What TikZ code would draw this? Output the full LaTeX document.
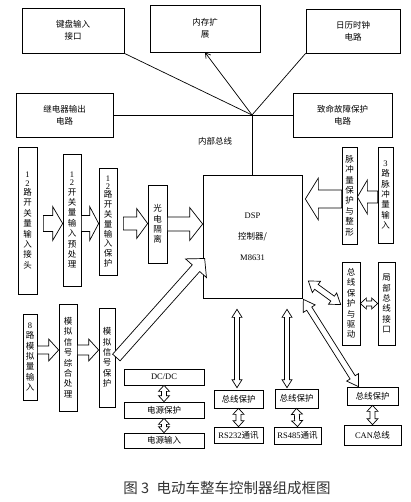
\documentclass[tikz,border=0pt]{standalone}
\usepackage{fontspec}
\setmainfont{Liberation Serif}
\newfontfamily\cjk{Noto Sans CJK SC}
\newfontfamily\lat{Liberation Serif}
\usetikzlibrary{calc,arrows.meta}
\tikzset{
  box/.style={draw, line width=0.7pt, inner sep=0pt, align=center, font=\cjk\fontsize{8.5}{12}\selectfont},
  vbox/.style={box, font=\cjk\fontsize{8.5}{10.4}\selectfont},
  fatline/.style={draw, line width=0.7pt, fill=white, line join=miter},
  bus/.style={line width=0.7pt},
  lbl/.style={font=\cjk\fontsize{8.5}{10}\selectfont, inner sep=0pt},
}
\newcommand\fatarrow[5]{%
  \coordinate (faS) at (#4);
  \coordinate (faE) at (#5);
  \coordinate (faC) at ($(faE)!#3!(faS)$);
  \draw[fatline] ($(faS)!#1!-90:(faE)$) -- ($(faC)!#1!-90:(faE)$) -- ($(faC)!#2!-90:(faE)$) -- (faE) -- ($(faC)!#2!90:(faE)$) -- ($(faC)!#1!90:(faE)$) -- ($(faS)!#1!90:(faE)$) -- cycle;}
\newcommand\dfatarrow[5]{%
  \coordinate (faS) at (#4);
  \coordinate (faE) at (#5);
  \coordinate (faC) at ($(faE)!#3!(faS)$);
  \coordinate (faD) at ($(faS)!#3!(faE)$);
  \draw[fatline] (faS) -- ($(faD)!#2!-90:(faE)$) -- ($(faD)!#1!-90:(faE)$) -- ($(faC)!#1!-90:(faE)$) -- ($(faC)!#2!-90:(faE)$) -- (faE) -- ($(faC)!#2!90:(faE)$) -- ($(faC)!#1!90:(faE)$) -- ($(faD)!#1!90:(faE)$) -- ($(faD)!#2!90:(faE)$) -- cycle;}
\begin{document}
\begin{tikzpicture}[x=1pt,y=-1pt]
\useasboundingbox[fill=white] (0,0) rectangle (410,502);

% top boxes
\node[box, minimum width=102pt, minimum height=45pt] (kb) at (73,30.5) {键盘输入\\接口};
\node[box, minimum width=110pt, minimum height=47pt] (mem) at (205,28.5) {内存扩\\展};
\node[box, minimum width=94pt, minimum height=44pt] (cal) at (353,31) {日历时钟\\电路};
\node[box, minimum width=97pt, minimum height=44pt] (relay) at (64.5,115) {继电器输出\\电路};
\node[box, minimum width=99pt, minimum height=44pt] (fault) at (342.5,115) {致命故障保护\\电路};

% DSP
\node[box, minimum width=99pt, minimum height=123pt, font=\cjk\fontsize{8.5}{11}\selectfont] (dsp) at (252.5,236.5) {{\lat DSP}\\[10pt]控制器/\\[10pt]{\lat M8631}};

% internal bus
\coordinate (J) at (252,115);
\draw[bus] (kb.south east) -- (J);
\draw[bus, -{Straight Barb[length=5pt,width=6pt]}] (J) -- (mem.south);
\draw[bus] (J) -- (cal.south west);
\draw[bus] (relay.east) -- (fault.west);
\draw[bus] (J) -- (J |- dsp.north);
\node[lbl] (buslbl) at (215,141) {内部总线};

% switch input chain
\node[vbox, minimum width=19pt, minimum height=147pt] (s1) at (27.5,220.5) {{\lat 1}\\[-2pt]{\lat 2}\\[-1pt]路\\开\\关\\量\\输\\入\\接\\头};
\node[vbox, minimum width=18pt, minimum height=132pt] (s2) at (72,220) {{\lat 1}\\[-2pt]{\lat 2}\\[-1pt]开\\关\\量\\输\\入\\预\\处\\理};
\node[vbox, minimum width=18pt, minimum height=107pt, font=\cjk\fontsize{8.5}{9.8}\selectfont] (s3) at (108,221.5) {{\lat 1}\\[-2pt]{\lat 2}\\[-1pt]路\\开\\关\\量\\输\\入\\保\\护};
\node[vbox, minimum width=19pt, minimum height=78pt] (s4) at (157.5,224) {光\\电\\隔\\离};

\coordinate (a1s) at ($(s1.east)+(6,3)$);
\coordinate (a1e) at (s2.west |- a1s);
\fatarrow{8pt}{17pt}{10pt}{a1s}{a1e}
\coordinate (a2s) at (s2.east |- a1s);
\coordinate (a2e) at (s3.west |- a1s);
\fatarrow{8pt}{17pt}{9pt}{a2s}{a2e}
\coordinate (a3s) at ($(s3.east |- a1s)+(6,0)$);
\coordinate (a3e) at (s4.west |- a3s);
\fatarrow{6.5pt}{15pt}{11pt}{a3s}{a3e}
\coordinate (a4e) at (dsp.west |- s4.east);
\fatarrow{7pt}{16.5pt}{13pt}{s4.east}{a4e}

% pulse input
\node[vbox, minimum width=15pt, minimum height=97pt] (p1) at (349.5,195.5) {脉\\冲\\量\\保\\护\\与\\整\\形};
\node[vbox, minimum width=15pt, minimum height=96pt] (p2) at (385.5,195) {{\lat 3}\\路\\脉\\冲\\量\\输\\入};
\coordinate (a5s) at ($(p2.west)+(0,2)$);
\coordinate (a5e) at (p1.east |- a5s);
\fatarrow{6pt}{17pt}{10pt}{a5s}{a5e}
\coordinate (a6s) at ($(p1.west)+(0,3.5)$);
\coordinate (a6e) at ($(dsp.east |- a6s)+(3,0)$);
\fatarrow{9pt}{21pt}{13pt}{a6s}{a6e}

% local bus
\node[vbox, minimum width=18pt, minimum height=83pt] (b1) at (351,303.5) {总\\线\\保\\护\\与\\驱\\动};
\node[vbox, minimum width=17pt, minimum height=83pt] (b2) at (386.5,303.5) {局\\部\\总\\线\\接\\口};
\dfatarrow{2.5pt}{5.5pt}{6pt}{b1.east}{b2.west}
\coordinate (d1s) at ($(dsp.east)+(6,44.5)$);
\coordinate (d1e) at ($(b1.west)+(-1,1)$);
\dfatarrow{3pt}{7pt}{10pt}{d1s}{d1e}

% analog input chain
\node[vbox, minimum width=14pt, minimum height=86pt] (an1) at (30,357) {{\lat 8}\\路\\模\\拟\\量\\输\\入};
\node[vbox, minimum width=18pt, minimum height=107pt] (an2) at (68,357.5) {模\\拟\\信\\号\\综\\合\\处\\理};
\node[vbox, minimum width=16pt, minimum height=99pt] (an3) at (107,357.5) {模\\拟\\信\\号\\保\\护};
\coordinate (a7s) at ($(an1.east)+(0,-7)$);
\coordinate (a7e) at (an2.west |- a7s);
\fatarrow{4pt}{11pt}{10pt}{a7s}{a7e}
\coordinate (a8s) at (an2.east |- a7s);
\coordinate (a8e) at (an3.west |- a7s);
\fatarrow{5pt}{11pt}{10pt}{a8s}{a8e}
\coordinate (a9s) at ($(an3.east)+(1,0)$);
\coordinate (a9e) at ($(dsp.west)+(2,22)$);
\fatarrow{5pt}{14pt}{13pt}{a9s}{a9e}

% power
\node[box, minimum width=80pt, minimum height=16pt] (dc) at (164,377) {\lat DC/DC};
\node[box, minimum width=80pt, minimum height=16pt] (pp) at (164,410) {电源保护};
\node[box, minimum width=80pt, minimum height=15pt] (pin) at (164,440.5) {电源输入};
\dfatarrow{2.5pt}{5.5pt}{6pt}{dc.south}{pp.north}
\dfatarrow{2.5pt}{5.5pt}{6pt}{pp.south}{pin.north}

% communication
\node[box, minimum width=49pt, minimum height=18pt] (bp1) at (238.5,399) {总线保护};
\node[box, minimum width=43pt, minimum height=19pt] (bp2) at (296.5,398.5) {总线保护};
\node[box, minimum width=51pt, minimum height=18pt] (bp3) at (372.5,396) {总线保护};
\node[box, minimum width=49pt, minimum height=16pt] (rs232) at (238.5,435) {{\lat RS232}通讯};
\node[box, minimum width=47pt, minimum height=17pt] (rs485) at (297.5,435.5) {{\lat RS485}通讯};
\node[box, minimum width=57pt, minimum height=20pt] (can) at (372.5,435) {{\lat CAN}总线};

\coordinate (v1s) at ($(dsp.south)+(-15.5,11)$);
\coordinate (v1e) at ($(v1s |- bp1.north)+(0,-2)$);
\dfatarrow{2.5pt}{5pt}{8pt}{v1s}{v1e}
\coordinate (v2s) at ($(dsp.south)+(34.5,11)$);
\coordinate (v2e) at ($(v2s |- bp2.north)+(0,-1)$);
\dfatarrow{2.5pt}{5pt}{8pt}{v2s}{v2e}
\coordinate (d2s) at ($(dsp.south east)+(1,1)$);
\coordinate (d2e) at ($(bp3.north)+(-14,0)$);
\dfatarrow{3pt}{7pt}{11pt}{d2s}{d2e}

\dfatarrow{2.5pt}{5.5pt}{6pt}{bp1.south}{rs232.north}
\dfatarrow{2.5pt}{5.5pt}{6pt}{bp2.south}{rs485.north}
\dfatarrow{2.5pt}{5.5pt}{6pt}{bp3.south}{can.north}

% caption
\node[font=\cjk\fontsize{14.5}{16}\selectfont, text=black!80] (cap) at (227,488) {图 3\enspace 电动车整车控制器组成框图};
\end{tikzpicture}
\end{document}
